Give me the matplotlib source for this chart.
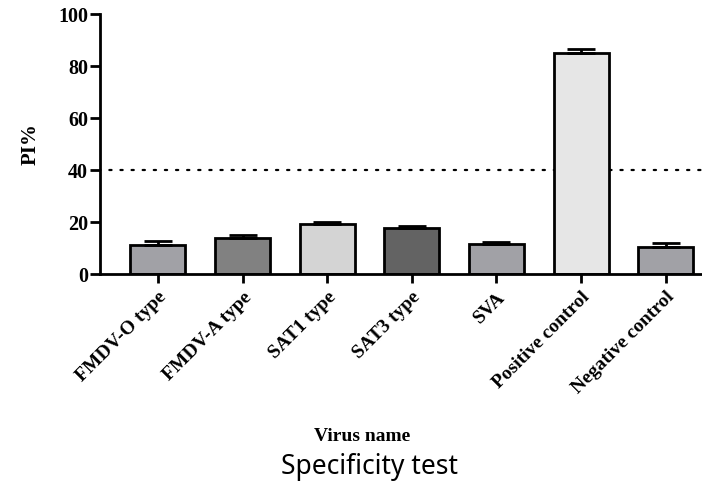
import matplotlib
matplotlib.use("Agg")
import matplotlib.pyplot as plt
import numpy as np

# PI% per virus, with the upper error
viruses = ["FMDV-O type", "FMDV-A type", "SAT1 type", "SAT3 type", "SVA",
           "Positive control", "Negative control"]
pi_mean = [11.2, 13.8, 19.1, 17.7, 11.7, 85.0, 10.6]
pi_err = [1.4, 1.1, 1.0, 0.8, 0.6, 1.5, 1.4]
bar_colors = ["#a1a1a6", "#818181", "#d4d4d4", "#636363", "#a1a1a6",
              "#e6e6e6", "#a1a1a6"]
cutoff = 40

serif = "Liberation Serif"

fig = plt.figure(figsize=(7.02, 4.86), dpi=100)
ax = fig.add_axes([0.1425, 0.436, 0.8575, 0.535])

x = np.arange(len(viruses))
ax.axhline(cutoff, color="black", linestyle=(0.8, (1, 4)), linewidth=1.6,
           dash_capstyle="round", zorder=1)
ax.bar(x, pi_mean, width=0.65, color=bar_colors, edgecolor="black",
       linewidth=2, zorder=2)
ax.errorbar(x, pi_mean, yerr=[np.zeros(len(x)), pi_err], fmt="none",
            ecolor="black", elinewidth=2, capsize=10, capthick=2, zorder=3)

ax.set_xlim(-0.685, 6.43)
ax.set_ylim(0, 100)
ax.set_yticks([0, 20, 40, 60, 80, 100])
ax.set_xticks(x)
ax.set_xticklabels(viruses, rotation=45, ha="right", rotation_mode="anchor",
                   fontfamily=serif, fontweight="bold", fontsize=14)
for lab in ax.get_yticklabels():
    lab.set_fontfamily(serif)
    lab.set_fontweight("bold")
    lab.set_fontsize(14.5)

for side in ["top", "right"]:
    ax.spines[side].set_visible(False)
for side in ["left", "bottom"]:
    ax.spines[side].set_linewidth(2)
ax.tick_params(axis="y", width=2, length=7, direction="out", pad=1.5)
ax.tick_params(axis="x", width=2, length=6.5, direction="out", pad=4)

ax.set_ylabel("PI%", fontfamily=serif, fontweight="bold", fontsize=15,
              labelpad=13)

fig.text(0.516, 0.101, "Virus name", ha="center", va="center",
         fontfamily=serif, fontweight="bold", fontsize=14)
fig.text(0.527, 0.039, "Specificity test", ha="center", va="center",
         fontfamily="Noto Sans", fontsize=19)

fig.savefig("out.png", dpi=100)
